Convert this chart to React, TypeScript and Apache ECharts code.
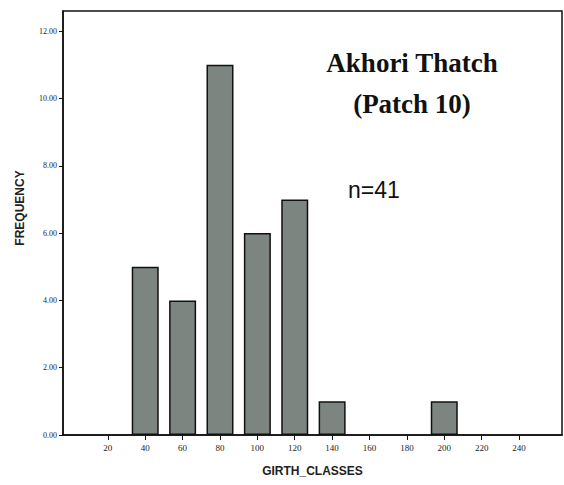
import React, { useEffect, useRef } from "react";
import * as echarts from "echarts";

const xTickValues = [20, 40, 60, 80, 100, 120, 140, 160, 180, 200, 220, 240];
const girthClasses = [40, 60, 80, 100, 120, 140, 200];
const frequencies = [5, 4, 11, 6, 7, 1, 1];
const yTickValues = [0, 2, 4, 6, 8, 10, 12];

const W = 564;
const H = 485;
const GRID = { left: 63, right: 2, top: 11, bottom: 50 };

export default function App() {
  const ref = useRef<HTMLDivElement>(null);
  useEffect(() => {
    if (!ref.current) return;
    const chart = echarts.init(ref.current, null, { renderer: "svg" });
    chart.setOption({
      animation: false,
      backgroundColor: "#ffffff",
      grid: { ...GRID },
      xAxis: {
        type: "value",
        min: -4,
        max: 263,
        axisLine: { show: true, onZero: false, lineStyle: { color: "#111", width: 1.5 } },
        axisTick: { show: true, customValues: xTickValues, length: 5, lineStyle: { color: "#111" } },
        axisLabel: {
          customValues: xTickValues,
          fontSize: 9,
          color: "#222",
          margin: 8,
          fontFamily: "Liberation Serif",
        },
        splitLine: { show: false },
        name: "GIRTH_CLASSES",
        nameLocation: "middle",
        nameGap: 30,
        nameTextStyle: { fontWeight: "bold", fontSize: 12, color: "#222", fontFamily: "Liberation Sans" },
      },
      yAxis: {
        type: "value",
        min: 0,
        max: 12.6,
        axisLine: { show: true, onZero: false, lineStyle: { color: "#111", width: 1.5 } },
        axisTick: { show: true, customValues: yTickValues, length: 4, lineStyle: { color: "#111" } },
        axisLabel: {
          customValues: yTickValues,
          formatter: (v: number) => v.toFixed(2),
          fontSize: 8,
          color: "#222",
          margin: 6,
          fontFamily: "Liberation Serif",
        },
        splitLine: { show: false },
      },
      series: [
        {
          type: "bar",
          data: girthClasses.map((g, i) => [g, frequencies[i]]),
          barWidth: 27,
          itemStyle: { color: "#7d8581", borderColor: "#111", borderWidth: 1.5 },
        },
      ],
      graphic: [
        {
          type: "rect",
          z: -1,
          silent: true,
          shape: {
            x: GRID.left,
            y: GRID.top,
            width: W - GRID.left - GRID.right,
            height: H - GRID.top - GRID.bottom,
          },
          style: { fill: "none", stroke: "#111", lineWidth: 1.5 },
        },
        {
          type: "text",
          x: 20,
          y: 208,
          rotation: Math.PI / 2,
          style: {
            text: "FREQUENCY",
            fontSize: 12,
            fontWeight: "bold",
            fontFamily: "Liberation Sans",
            fill: "#222",
            align: "center",
            verticalAlign: "middle",
          },
        },
        {
          type: "text",
          x: 412,
          y: 63,
          style: {
            text: "Akhori Thatch",
            fontSize: 27,
            fontWeight: "bold",
            fontFamily: "Liberation Serif",
            fill: "#111",
            align: "center",
            verticalAlign: "middle",
          },
        },
        {
          type: "text",
          x: 412,
          y: 104,
          style: {
            text: "(Patch 10)",
            fontSize: 27,
            fontWeight: "bold",
            fontFamily: "Liberation Serif",
            fill: "#111",
            align: "center",
            verticalAlign: "middle",
          },
        },
        {
          type: "text",
          x: 348,
          y: 190,
          style: {
            text: "n=41",
            fontSize: 23,
            fontFamily: "Liberation Sans",
            fill: "#111",
            align: "left",
            verticalAlign: "middle",
          },
        },
      ],
    });
    return () => chart.dispose();
  }, []);
  return (
    <div
      ref={ref}
      style={{ position: "fixed", left: 0, top: 0, width: W, height: H, background: "#fff" }}
    />
  );
}
